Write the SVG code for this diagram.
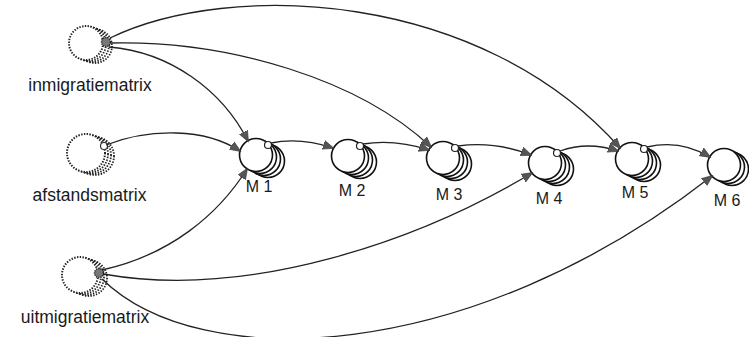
<svg xmlns="http://www.w3.org/2000/svg" width="749" height="337" viewBox="0 0 749 337">
<style>
.lbl{font-family:"Liberation Sans",Arial,Helvetica,sans-serif;font-size:17.5px;fill:#1a1a1a;text-anchor:middle}
.mlbl{font-family:"Liberation Sans",Arial,Helvetica,sans-serif;font-size:16px;fill:#1a1a1a;text-anchor:middle}
.dot{fill:#fff;stroke:#222;stroke-width:2;stroke-dasharray:1.4 1.4}
.dotb{fill:none;stroke:#222;stroke-width:1.8;stroke-dasharray:1.4 1.4}
.mc{fill:#fff;stroke:#111;stroke-width:1.6}
.port{fill:#fff;stroke:#222;stroke-width:1.2}
.conn{fill:none;stroke:#222;stroke-width:1.3}
</style>
<defs>
<marker id="ah" markerWidth="12" markerHeight="10" refX="10" refY="5" orient="auto" markerUnits="userSpaceOnUse">
<path d="M0,0.5 L11,5 L0,9.5 Z" fill="#555" stroke="#333" stroke-width="0.6"/>
</marker>
</defs>

<g id="inmigratiematrix">
<circle class="dotb" cx="95" cy="46" r="17"/>
<circle class="dotb" cx="92" cy="45" r="17"/>
<circle class="dotb" cx="89" cy="44" r="17"/>
<circle class="dot" cx="86" cy="43" r="17"/>
<circle cx="106" cy="42" r="4.5" fill="#777" stroke="#222" stroke-width="1.4" stroke-dasharray="1.2 1"/>
<text class="lbl" x="90" y="91">inmigratiematrix</text>
</g>

<g id="afstandsmatrix">
<circle class="dotb" cx="95" cy="156" r="19"/>
<circle class="dotb" cx="92" cy="155" r="19"/>
<circle class="dotb" cx="89" cy="154" r="19"/>
<circle class="dot" cx="86" cy="153" r="19"/>
<circle cx="104" cy="146" r="3.5" fill="#fff" stroke="#333" stroke-width="1.2"/>
<text class="lbl" x="89.5" y="201">afstandsmatrix</text>
</g>

<g id="uitmigratiematrix">
<circle class="dotb" cx="89" cy="278" r="18"/>
<circle class="dotb" cx="86" cy="277" r="18"/>
<circle class="dotb" cx="83" cy="276" r="18"/>
<circle class="dot" cx="80" cy="275" r="18"/>
<circle cx="99" cy="273" r="4.5" fill="#777" stroke="#222" stroke-width="1.4" stroke-dasharray="1.2 1"/>
<text class="lbl" x="85" y="323">uitmigratiematrix</text>
</g>

<g id="M1">
<circle class="mc" cx="268" cy="161" r="16.5"/>
<circle class="mc" cx="264" cy="159" r="16.5"/>
<circle class="mc" cx="260" cy="157" r="16.5"/>
<circle class="mc" cx="256" cy="155" r="16.5"/>
<circle class="port" cx="268" cy="145" r="3.5"/>
<text class="mlbl" x="259" y="192">M 1</text>
</g>
<g id="M2">
<circle class="mc" cx="360" cy="162" r="16.5"/>
<circle class="mc" cx="356" cy="160" r="16.5"/>
<circle class="mc" cx="352" cy="158" r="16.5"/>
<circle class="mc" cx="348" cy="156" r="16.5"/>
<circle class="port" cx="360" cy="146" r="3.5"/>
<text class="mlbl" x="352" y="196">M 2</text>
</g>
<g id="M3">
<circle class="mc" cx="455" cy="164" r="16.5"/>
<circle class="mc" cx="451" cy="162" r="16.5"/>
<circle class="mc" cx="447" cy="160" r="16.5"/>
<circle class="mc" cx="443" cy="158" r="16.5"/>
<circle class="port" cx="455" cy="148" r="3.5"/>
<text class="mlbl" x="449" y="200">M 3</text>
</g>
<g id="M4">
<circle class="mc" cx="557" cy="169" r="16.5"/>
<circle class="mc" cx="553" cy="167" r="16.5"/>
<circle class="mc" cx="549" cy="165" r="16.5"/>
<circle class="mc" cx="545" cy="163" r="16.5"/>
<circle class="port" cx="557" cy="153" r="3.5"/>
<text class="mlbl" x="549" y="204">M 4</text>
</g>
<g id="M5">
<circle class="mc" cx="644" cy="165" r="16.5"/>
<circle class="mc" cx="640" cy="163" r="16.5"/>
<circle class="mc" cx="636" cy="161" r="16.5"/>
<circle class="mc" cx="632" cy="159" r="16.5"/>
<circle class="port" cx="644" cy="149" r="3.5"/>
<text class="mlbl" x="635" y="198">M 5</text>
</g>
<g id="M6">
<circle class="mc" cx="732" cy="169" r="16.5"/>
<circle class="mc" cx="728" cy="167" r="16.5"/>
<circle class="mc" cx="724" cy="165" r="16.5"/>
<text class="mlbl" x="727" y="206">M 6</text>
</g>

<g id="connectors">
<path class="conn" marker-end="url(#ah)" d="M271,143 Q300,137 333,148"/>
<path class="conn" marker-end="url(#ah)" d="M363,144 Q395,139 429,150"/>
<path class="conn" marker-end="url(#ah)" d="M458,146 Q495,141 531,155"/>
<path class="conn" marker-end="url(#ah)" d="M560,151 Q588,141 618,151"/>
<path class="conn" marker-end="url(#ah)" d="M647,147 Q680,139 710,157"/>
<path class="conn" marker-end="url(#ah)" d="M109,47 C170,52 222,90 248,141"/>
<path class="conn" marker-end="url(#ah)" d="M110,43 C230,40 360,80 431,147"/>
<path class="conn" marker-end="url(#ah)" d="M110,38 C230,-20 480,-10 620,148"/>
<path class="conn" marker-end="url(#ah)" d="M106,145 C150,128 205,128 240,151"/>
<path class="conn" marker-end="url(#ah)" d="M102,270 C170,255 218,215 247,169"/>
<path class="conn" marker-end="url(#ah)" d="M103,274 C250,300 420,240 532,173"/>
<path class="conn" marker-end="url(#ah)" d="M102,279 C200,375 470,365 712,176"/>
</g>
</svg>
